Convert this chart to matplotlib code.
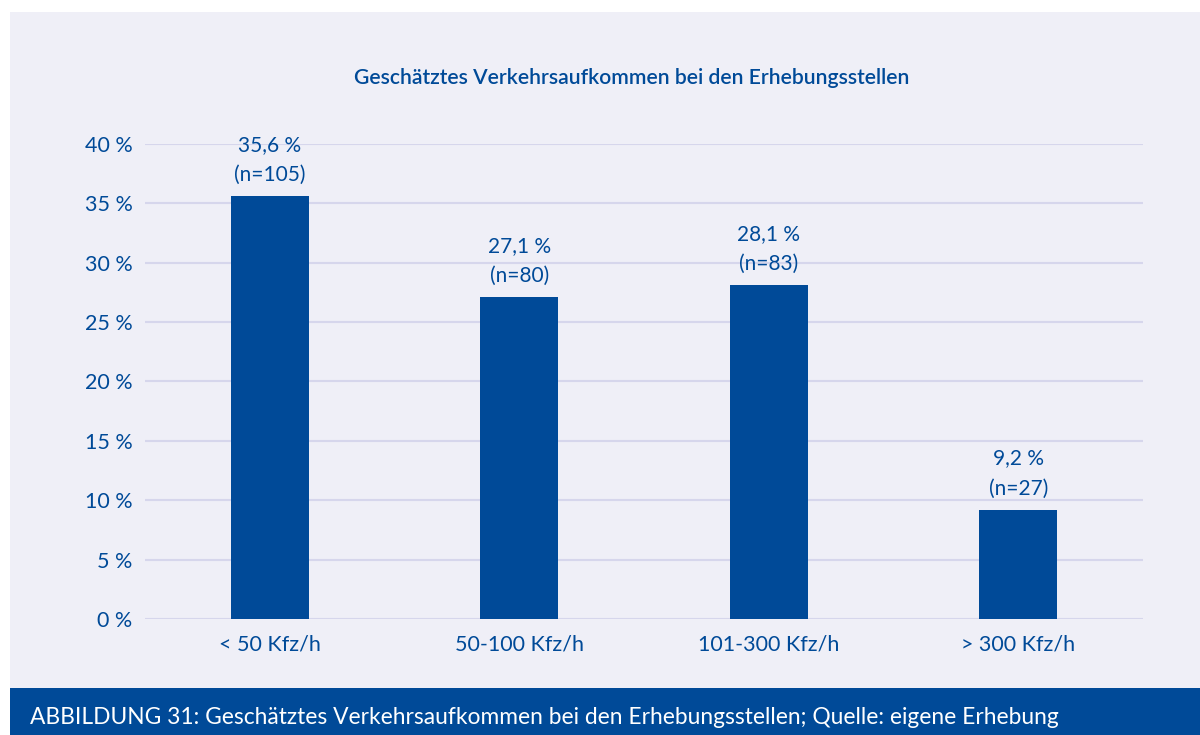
import matplotlib.pyplot as plt
from matplotlib.patches import Rectangle

categories = ["< 50 Kfz/h", "50-100 Kfz/h", "101-300 Kfz/h", "> 300 Kfz/h"]
shares = [35.6, 27.1, 28.1, 9.2]
counts = [105, 80, 83, 27]
y_ticks = [0, 5, 10, 15, 20, 25, 30, 35, 40]

title = "Geschätztes Verkehrsaufkommen bei den Erhebungsstellen"
caption = "ABBILDUNG 31: Geschätztes Verkehrsaufkommen bei den Erhebungsstellen; Quelle: eigene Erhebung"

BLUE = "#004A98"
PANEL = "#EFEFF7"
GRID = "#D6D6EC"
FONT = ["Lato", "DejaVu Sans"]

W, H = 1200, 735
fig = plt.figure(figsize=(W / 100, H / 100), dpi=100)
fig.patch.set_facecolor("white")

# light background panel and caption band
fig.add_artist(Rectangle((10 / W, 47 / H), 1 - 10 / W, (688 - 12) / H,
                         transform=fig.transFigure, facecolor=PANEL,
                         edgecolor="none", zorder=0))
fig.add_artist(Rectangle((10 / W, 0), 1 - 10 / W, 47 / H,
                         transform=fig.transFigure, facecolor=BLUE,
                         edgecolor="none", zorder=0))
fig.text(30 / W, 18 / H, caption, color="white", fontsize=16.4,
         family=FONT, va="center", ha="left")

ax = fig.add_axes([145 / W, 1 - 619 / H, (1143 - 145) / W, (619 - 144) / H])
ax.set_facecolor("none")
x = range(len(categories))
ax.bar(x, shares, width=0.312, color=BLUE, zorder=3)

for xi, v, n in zip(x, shares, counts):
    label = f"{v:.1f}".replace(".", ",") + " %\n(n=" + str(n) + ")"
    ax.annotate(label, (xi, v), xytext=(0, 8), textcoords="offset points",
                ha="center", va="bottom", color=BLUE, fontsize=15,
                family=FONT, linespacing=1.65)

ax.set_xlim(-0.5, 3.5)
ax.set_ylim(0, 40)
ax.set_yticks(y_ticks)
ax.set_yticklabels([f"{t} %" for t in y_ticks])
ax.set_xticks(list(x))
ax.set_xticklabels(categories)
ax.grid(axis="y", color=GRID, linewidth=1.5, zorder=1)
ax.tick_params(length=0, labelcolor=BLUE, labelsize=15.5)
ax.tick_params(axis="y", pad=9)
ax.tick_params(axis="x", pad=11)
for lbl in ax.get_xticklabels() + ax.get_yticklabels():
    lbl.set_family(FONT)
for s in ax.spines.values():
    s.set_visible(False)

fig.text(632 / W, 1 - 78 / H, title, color=BLUE, fontsize=15.2,
         family=FONT, ha="center", va="center", fontweight="semibold")

fig.savefig("out.png", dpi=100, facecolor="white")
